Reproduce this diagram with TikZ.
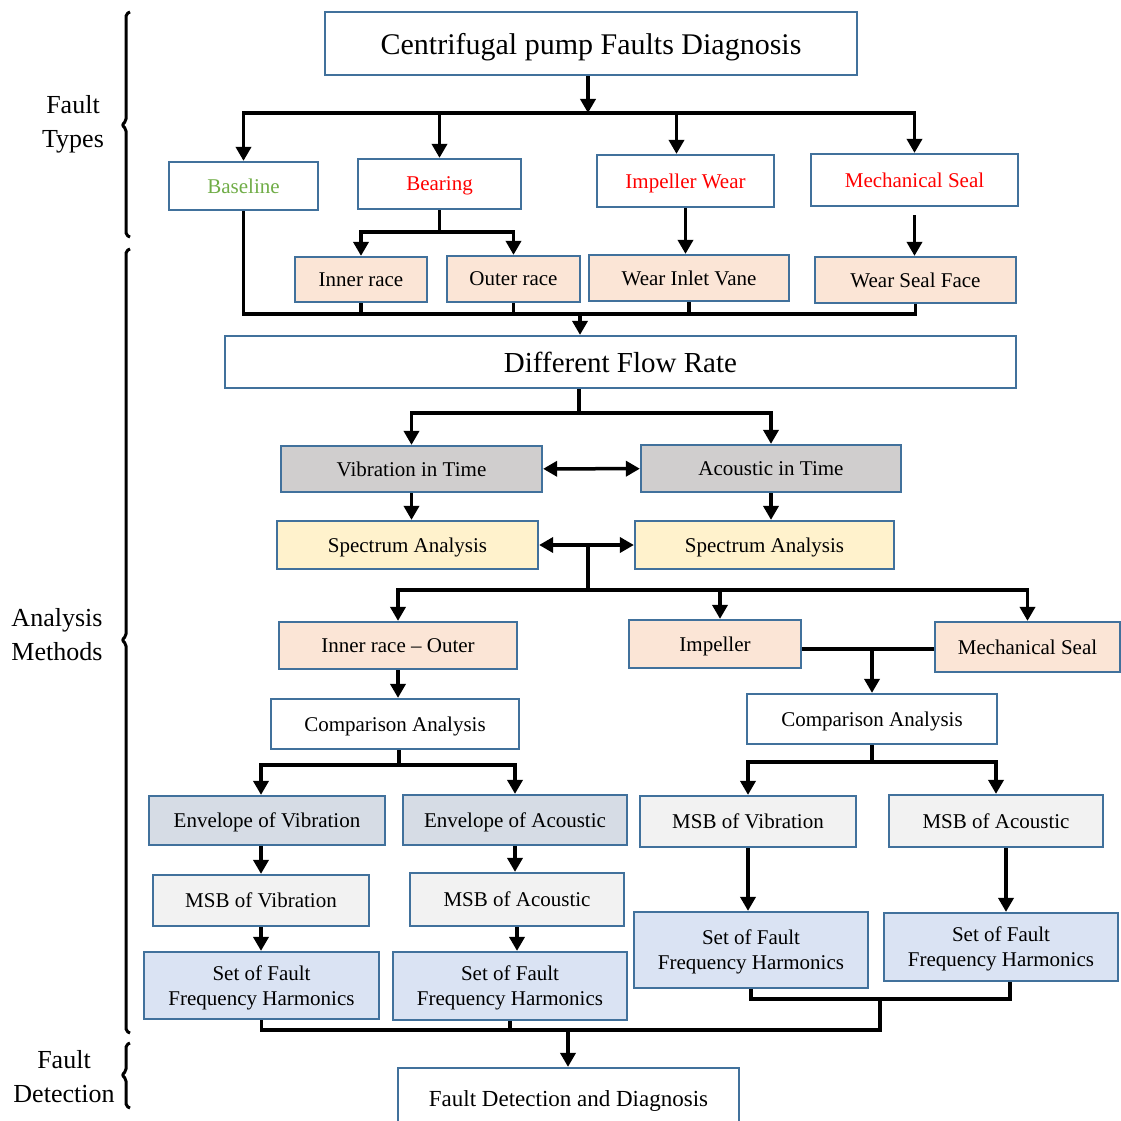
\documentclass[tikz,border=0pt]{standalone}
\usepackage{fontspec}
\setmainfont{Liberation Serif}
\usetikzlibrary{arrows.meta}
\definecolor{boxblue}{HTML}{41719C}
\definecolor{basegreen}{HTML}{70AD47}
\definecolor{timegray}{HTML}{D0CECE}
\definecolor{specyellow}{HTML}{FFF2CC}
\definecolor{faultpeach}{HTML}{FBE5D6}
\definecolor{envblue}{HTML}{D6DCE5}
\definecolor{msbgray}{HTML}{F2F2F2}
\definecolor{setblue}{HTML}{DAE3F3}
\begin{document}
\begin{tikzpicture}[x=1pt,y=-1pt,
    box/.style={draw=boxblue,line width=2.2pt,fill=white,inner sep=0pt,text depth=0pt,
        font=\fontsize{21}{25}\selectfont,align=center},
    timebox/.style={box,fill=timegray},
    specbox/.style={box,fill=specyellow},
    faultbox/.style={box,fill=faultpeach},
    envbox/.style={box,fill=envblue},
    msbbox/.style={box,fill=msbgray},
    setbox/.style={box,fill=setblue},
    ln/.style={line width=3.5pt},
    arr/.style={line width=3.5pt,-{Triangle[length=14pt,width=15pt]}},
    dbl/.style={line width=3.5pt,{Triangle[length=14pt,width=15pt]}-{Triangle[length=14pt,width=15pt]}},
    side/.style={font=\fontsize{26}{34}\selectfont,align=center},
    brk/.style={line width=3pt,line join=round,rounded corners=2pt}]
    \useasboundingbox (0,0) rectangle (1121,1121);
    \fill[white] (0,0) rectangle (1121,1121);

    % fault types
    \node[box,minimum width=532,minimum height=63,font=\fontsize{30}{36}\selectfont] (title) at (591,43.5) {Centrifugal pump Faults Diagnosis};
    \node[box,minimum width=149,minimum height=48,text=basegreen] (base) at (243.5,186) {Baseline};
    \node[box,minimum width=163,minimum height=50,text=red] (bear) at (439.5,184) {Bearing};
    \node[box,minimum width=177,minimum height=52,text=red] (impw) at (685.5,181) {Impeller Wear};
    \node[box,minimum width=207,minimum height=52,text=red] (ms) at (914.5,180) {Mechanical Seal};
    \node[faultbox,minimum width=132,minimum height=45] (inner) at (361,279.5) {Inner race};
    \node[faultbox,minimum width=133,minimum height=46] (outer) at (513.5,279) {Outer race};
    \node[faultbox,minimum width=200,minimum height=46] (wiv) at (689,278) {Wear Inlet Vane};
    \node[faultbox,minimum width=201,minimum height=46] (wsf) at (915.5,280) {Wear Seal Face};

    % analysis
    \node[box,minimum width=791,minimum height=52,font=\fontsize{29}{34}\selectfont] (dfr) at (620.5,362) {Different Flow Rate};
    \node[timebox,minimum width=261,minimum height=46] (vit) at (411.5,469) {Vibration in Time};
    \node[timebox,minimum width=260,minimum height=47] (ait) at (771,468.5) {Acoustic in Time};
    \node[specbox,minimum width=261,minimum height=48] (sal) at (407.5,545) {Spectrum Analysis};
    \node[specbox,minimum width=259,minimum height=48] (sar) at (764.5,545) {Spectrum Analysis};
    \node[faultbox,minimum width=238,minimum height=47] (iro) at (398,645.5) {Inner race -- Outer};
    \node[faultbox,minimum width=172,minimum height=48] (imp) at (715,644) {Impeller};
    \node[faultbox,minimum width=185,minimum height=50] (ms2) at (1027.5,647) {Mechanical Seal};
    \node[box,minimum width=248,minimum height=50] (compl) at (395,724) {Comparison Analysis};
    \node[box,minimum width=250,minimum height=50] (compr) at (872,719) {Comparison Analysis};
    \node[envbox,minimum width=236,minimum height=49] (envv) at (267,820.5) {Envelope of Vibration};
    \node[envbox,minimum width=224,minimum height=50] (enva) at (515,820) {Envelope of Acoustic};
    \node[msbbox,minimum width=216,minimum height=51] (msbvr) at (748,821.5) {MSB of Vibration};
    \node[msbbox,minimum width=214,minimum height=52] (msbar) at (996,821) {MSB of Acoustic};
    \node[msbbox,minimum width=216,minimum height=51] (msbvl) at (261,900.5) {MSB of Vibration};
    \node[msbbox,minimum width=214,minimum height=53] (msbal) at (517,899.5) {MSB of Acoustic};
    \node[setbox,minimum width=235,minimum height=67] (setl1) at (261.5,985.5) {Set of Fault\\Frequency Harmonics};
    \node[setbox,minimum width=234,minimum height=68] (setl2) at (510,986) {Set of Fault\\Frequency Harmonics};
    \node[setbox,minimum width=234,minimum height=76] (setr1) at (751,950) {Set of Fault\\Frequency Harmonics};
    \node[setbox,minimum width=234,minimum height=68] (setr2) at (1001,947) {Set of Fault\\Frequency Harmonics};

    % detection
    \node[box,minimum width=341,minimum height=62,font=\fontsize{23}{28}\selectfont] (fdd) at (568.5,1099) {Fault Detection and Diagnosis};

    % connectors
    \coordinate (b1) at (588,113);
    \draw[arr] (title.south -| b1) -- (b1);
    \draw[arr] (b1) -| (base.north);
    \draw[arr] (b1) -| (ms.north);
    \draw[arr] (bear.north |- b1) -- (bear.north);
    \draw[arr] ([xshift=-9pt]impw.north |- b1) -- ([xshift=-9pt]impw.north);
    \coordinate (b2) at (440,232);
    \draw[ln] (bear.south) -- (bear.south |- b2);
    \draw[arr] (bear.south |- b2) -| (inner.north);
    \draw[arr] (bear.south |- b2) -| (outer.north);
    \draw[arr] (impw.south) -- (impw.south |- wiv.north);
    \draw[arr] ([yshift=-8pt]ms.south) -- (ms.south |- wsf.north);
    \coordinate (b3) at (580,314);
    \draw[ln] (base.south) |- (wsf.south |- b3) -- (wsf.south);
    \foreach \n in {inner,outer,wiv} \draw[ln] (\n.south) -- (\n.south |- b3);
    \draw[arr] (b3) -- (b3 |- dfr.north);

    \coordinate (b4) at (579,413);
    \draw[ln] (dfr.south -| b4) -- (b4);
    \draw[arr] (b4) -| (vit.north);
    \draw[arr] (b4) -| (ait.north);
    \draw[dbl] (vit) -- (ait);
    \draw[arr] (vit.south) -- (vit.south |- sal.north);
    \draw[arr] (ait.south) -- (ait.south |- sar.north);
    \draw[dbl] (sal) -- (sar);
    \coordinate (b5) at (588,590);
    \draw[ln] (b5 |- sal.east) -- (b5);
    \draw[arr] (b5) -| (iro.north);
    \draw[arr] (b5) -| (ms2.north);
    \draw[arr] ([xshift=5pt]imp.north |- b5) -- ([xshift=5pt]imp.north);
    \draw[arr] (iro.south) -- (iro.south |- compl.north);
    \coordinate (b6) at (872,649);
    \draw[ln] (imp.east |- b6) -- (ms2.west |- b6);
    \draw[arr] (b6) -- (b6 |- compr.north);

    \coordinate (b7) at (399,765);
    \draw[ln] (compl.south -| b7) -- (b7);
    \draw[arr] (b7) -| (msbvl.north |- envv.north);
    \draw[arr] (b7) -| (enva.north);
    \coordinate (b8) at (872,762);
    \draw[ln] (compr.south -| b8) -- (b8);
    \draw[arr] (b8) -| (msbvr.north);
    \draw[arr] (b8) -| (msbar.north);
    \draw[arr] (msbvl.north |- envv.south) -- (msbvl.north);
    \draw[arr] (enva.south) -- (enva.south |- msbal.north);
    \draw[arr] (msbvl.south) -- (msbvl.south |- setl1.north);
    \draw[arr] (msbal.south) -- (msbal.south |- setl2.north);
    \draw[arr] (msbvr.south) -- (msbvr.south |- setr1.north);
    \draw[arr] ([xshift=10pt]msbar.south) -- ([xshift=10pt]msbar.south |- setr2.north);

    \coordinate (b9) at (880,999);
    \draw[ln] (setr1.south) |- ([xshift=9pt]setr2.south |- b9) -- ([xshift=9pt]setr2.south);
    \coordinate (b10) at (568,1030);
    \draw[ln] (setl1.south) |- (b9 |- b10) -- (b9);
    \draw[ln] (setl2.south) -- (setl2.south |- b10);
    \draw[arr] (b10) -- (b10 |- fdd.north);

    % side labels
    \draw[brk] (130,12) -- (126,14) -- (126,121) -- (122,125) -- (126,129) -- (126,235) -- (130,237);
    \draw[brk] (130,249) -- (126,251) -- (126,636) -- (122,640) -- (126,644) -- (126,1031) -- (130,1033);
    \draw[brk] (130,1043) -- (126,1045) -- (126,1071) -- (122,1075) -- (126,1079) -- (126,1106) -- (130,1108);
    \node[side] (ft) at (73,124) {Fault\\Types};
    \node[side] (am) at (57,635) {Analysis\\Methods};
    \node[side] (fd) at (64,1077) {Fault\\Detection};
\end{tikzpicture}
\end{document}
